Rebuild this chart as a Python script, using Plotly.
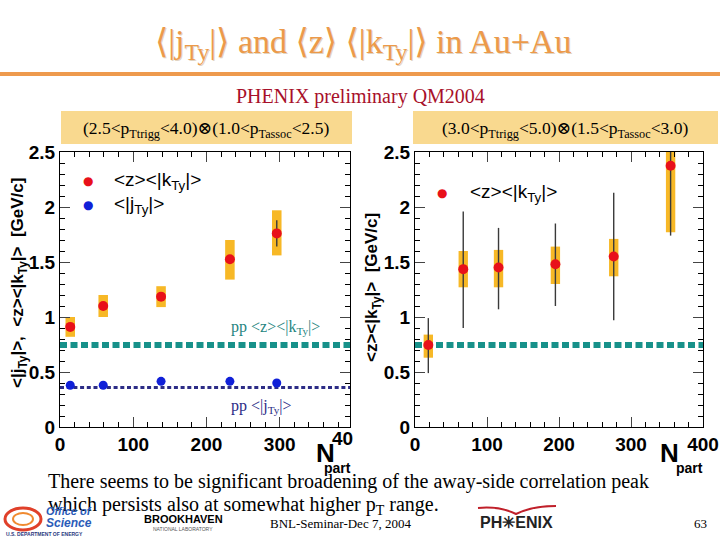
import plotly.graph_objects as go

# ---------------- data ----------------
# left panel: (2.5<pTtrigg<4.0)x(1.0<pTassoc<2.5)
L_npart = [14, 59, 138, 232, 296]
L_zk = [0.91, 1.10, 1.185, 1.525, 1.76]
L_zk_sys_lo = [0.82, 1.00, 1.09, 1.34, 1.56]
L_zk_sys_hi = [1.00, 1.20, 1.28, 1.70, 1.97]
L_zk_stat_lo = [0.88, 1.07, 1.155, 1.49, 1.64]
L_zk_stat_hi = [0.94, 1.13, 1.215, 1.56, 1.88]
L_jt = [0.38, 0.38, 0.415, 0.415, 0.40]
pp_zk = 0.745
pp_jt = 0.36

# right panel: (3.0<pTtrigg<5.0)x(1.5<pTassoc<3.0)
R_npart = [18.5, 67, 116, 195, 276, 355]
R_zk = [0.745, 1.435, 1.45, 1.48, 1.55, 2.375]
R_zk_sys_lo = [0.63, 1.27, 1.27, 1.30, 1.37, 1.77]
R_zk_sys_hi = [0.84, 1.60, 1.61, 1.64, 1.71, 2.75]
R_zk_stat_lo = [0.49, 0.90, 1.07, 1.10, 0.97, 1.74]
R_zk_stat_hi = [0.99, 1.96, 1.81, 1.85, 2.13, 2.90]

x_ticks = [0, 100, 200, 300, 400]
y_ticks = [0, 0.5, 1, 1.5, 2, 2.5]

# ---------------- helpers ----------------
W, H = 720, 540
def px(x): return x / W
def py(y): return 1 - y / H

RED = "#E8101A"
BLUE = "#1020D8"
SYS = "#F7B826"
TEAL = "#17918A"
NAVY = "#2C2C86"
SERIF = "Liberation Serif, DejaVu Serif, serif"

fig = go.Figure()

def add_panel(xa, ya, npart, val, slo, shi, stlo, sthi):
    fig.add_trace(go.Bar(x=npart, y=[h - l for h, l in zip(shi, slo)], base=slo,
                         width=13, marker=dict(color=SYS, line=dict(width=0)),
                         xaxis=xa, yaxis=ya, showlegend=False))
    fig.add_trace(go.Scatter(x=npart, y=val, mode="markers",
                             marker=dict(size=1, color="rgba(0,0,0,0)"),
                             error_y=dict(type="data", symmetric=False,
                                          array=[h - v for h, v in zip(sthi, val)],
                                          arrayminus=[v - l for v, l in zip(val, stlo)],
                                          color="#3a3a3a", thickness=1.4, width=0),
                             xaxis=xa, yaxis=ya, showlegend=False))

add_panel("x", "y", L_npart, L_zk, L_zk_sys_lo, L_zk_sys_hi, L_zk_stat_lo, L_zk_stat_hi)
add_panel("x2", "y2", R_npart, R_zk, R_zk_sys_lo, R_zk_sys_hi, R_zk_stat_lo, R_zk_stat_hi)

# pp reference lines
for xa, ya in (("x", "y"), ("x2", "y2")):
    fig.add_trace(go.Scatter(x=[0, 400], y=[pp_zk, pp_zk], mode="lines",
                             line=dict(color=TEAL, width=6, dash="7px,3.5px"),
                             xaxis=xa, yaxis=ya, showlegend=False))
fig.add_trace(go.Scatter(x=[0, 400], y=[pp_jt, pp_jt], mode="lines",
                         line=dict(color=NAVY, width=3, dash="4px,2.7px"),
                         xaxis="x", yaxis="y", showlegend=False))

# markers
fig.add_trace(go.Scatter(x=L_npart, y=L_jt, mode="markers",
                         marker=dict(size=9, color=BLUE), xaxis="x", yaxis="y", showlegend=False))
fig.add_trace(go.Scatter(x=L_npart, y=L_zk, mode="markers",
                         marker=dict(size=10, color=RED), xaxis="x", yaxis="y", showlegend=False))
fig.add_trace(go.Scatter(x=R_npart, y=R_zk, mode="markers",
                         marker=dict(size=10, color=RED), xaxis="x2", yaxis="y2", showlegend=False))

tickfont = dict(family="Liberation Sans", size=19, color="black", weight="bold")
def xaxis(dom, rng):
    return dict(domain=dom, range=rng, tickvals=x_ticks, ticks="inside", ticklen=10,
                tickwidth=1, mirror="allticks", showline=True, linecolor="black",
                linewidth=1.3, showgrid=False, zeroline=False, tickfont=tickfont,
                minor=dict(dtick=20, ticks="inside", ticklen=5, tickcolor="black", showgrid=False))
def yaxis(dom, anchor):
    return dict(domain=dom, range=[0, 2.5], tickvals=y_ticks, ticks="inside", ticklen=10,
                tickwidth=1, mirror="allticks", showline=True, linecolor="black",
                linewidth=1.3, showgrid=False, zeroline=False, tickfont=tickfont, anchor=anchor,
                minor=dict(dtick=0.1, ticks="inside", ticklen=5, tickcolor="black", showgrid=False))

ydom = [py(427), py(152)]
fig.update_layout(
    width=W, height=H, margin=dict(l=0, r=0, t=0, b=0, autoexpand=False),
    paper_bgcolor="white", plot_bgcolor="white", barmode="overlay", showlegend=False,
    xaxis=dict(xaxis([px(60), px(350)], [0, 396]), anchor="y"),
    yaxis=yaxis(ydom, "x"),
    xaxis2=dict(xaxis([px(415), px(703)], [0, 400]), anchor="y2"),
    yaxis2=yaxis(ydom, "x2"),
)

shapes = [
    dict(type="line", xref="paper", yref="paper", x0=0, x1=1, y0=py(74), y1=py(74),
         line=dict(color="#EE9A4D", width=4)),
    dict(type="rect", xref="paper", yref="paper", x0=px(61), x1=px(352), y0=py(144), y1=py(111),
         fillcolor="#F9D98F", line=dict(width=0), layer="below"),
    dict(type="rect", xref="paper", yref="paper", x0=px(413), x1=px(718), y0=py(144), y1=py(111),
         fillcolor="#F9D98F", line=dict(width=0), layer="below"),
    # DOE logo swirl (approximation)
    dict(type="circle", xref="paper", yref="paper", x0=px(5), x1=px(41), y0=py(530), y1=py(508),
         line=dict(color="#E0402A", width=3), fillcolor="rgba(0,0,0,0)"),
    dict(type="circle", xref="paper", yref="paper", x0=px(13), x1=px(33), y0=py(525), y1=py(513),
         line=dict(color="#F08A30", width=2), fillcolor="rgba(0,0,0,0)"),
    # PHENIX wing
    dict(type="path", xref="paper", yref="paper",
         path=f"M {px(478)} {py(508)} Q {px(500)} {py(506)} {px(516)} {py(514)} Q {px(532)} {py(506)} {px(556)} {py(506)}",
         line=dict(color="#C0202A", width=2)),
]
fig.update_layout(shapes=shapes)

ann = []
def A(x, y, text, size, color="black", family=SERIF, weight="normal",
      xanchor="center", angle=0, **kw):
    ann.append(dict(x=px(x), y=py(y), xref="paper", yref="paper", text=text, showarrow=False,
                    xanchor=xanchor, yanchor="middle", textangle=angle,
                    font=dict(size=size, color=color, family=family, weight=weight, **kw)))

# title (shadow + main)
TITLE = "⟨|j<sub>Ty</sub>|⟩ and ⟨z⟩ ⟨|k<sub>Ty</sub>|⟩ in Au+Au"
A(364, 45, TITLE, 34, color="#E2D4C2")
A(363, 44, TITLE, 34, color="#EC9A4A")
A(360, 97, "PHENIX preliminary QM2004", 20, color="#A8102A")
A(206, 129, "(2.5&lt;p<sub>Ttrigg</sub>&lt;4.0)⊗(1.0&lt;p<sub>Tassoc</sub>&lt;2.5)", 17.5)
A(565, 129, "(3.0&lt;p<sub>Ttrigg</sub>&lt;5.0)⊗(1.5&lt;p<sub>Tassoc</sub>&lt;3.0)", 17.5)

# legends
A(88, 181, "●", 12, color=RED, family="DejaVu Sans")
A(88, 205, "●", 12, color=BLUE, family="DejaVu Sans")
A(112, 181, "&lt;z&gt;&lt;|k<sub>Ty</sub>|&gt;", 19, family="Liberation Sans", xanchor="left")
A(112, 205, "&lt;|j<sub>Ty</sub>|&gt;", 19, family="Liberation Sans", xanchor="left")
A(442, 193, "●", 12, color=RED, family="DejaVu Sans")
A(468, 193, "&lt;z&gt;&lt;|k<sub>Ty</sub>|&gt;", 19, family="Liberation Sans", xanchor="left")

# pp labels
A(229, 327, "pp &lt;z&gt;&lt;|k<sub>Ty</sub>|&gt;", 16, color="#1F8580", xanchor="left")
A(229, 406, "pp &lt;|j<sub>Ty</sub>|&gt;", 16, color=NAVY, xanchor="left")

# axis titles
A(19, 283, "&lt;|j<sub>Ty</sub>|&gt;,  &lt;z&gt;&lt;|k<sub>Ty</sub>|&gt;  [GeV/c]", 17,
  family="Liberation Sans", weight="bold", angle=-90)
A(373, 288, "&lt;z&gt;&lt;|k<sub>Ty</sub>|&gt;  [GeV/c]", 17,
  family="Liberation Sans", weight="bold", angle=-90)
A(342, 438, "40", 19, family="Liberation Sans", weight="bold")
A(325, 453, "N", 26, family="Liberation Sans", weight="bold")
A(337, 468, "part", 14, family="Liberation Sans", weight="bold")
A(669, 453, "N", 26, family="Liberation Sans", weight="bold")
A(689, 468, "part", 14, family="Liberation Sans", weight="bold")

# bottom text
A(46, 481, "There seems to be significant broadening of the away-side correlation peak", 20,
  xanchor="left")
A(46, 505, "which persists also at somewhat higher p<sub>T</sub> range.", 20, xanchor="left")

# footer
A(340, 523, "BNL-Seminar-Dec 7, 2004", 13)
A(700, 523, "63", 13)
A(44, 511, "Office of", 11, color="#2A5BB8", family="Liberation Sans", weight="bold",
  xanchor="left", style="italic")
A(44, 523, "Science", 12, color="#2A5BB8", family="Liberation Sans", weight="bold",
  xanchor="left", style="italic")
A(4, 534, "U.S. DEPARTMENT OF ENERGY", 5, color="#2A3A80", family="Liberation Sans",
  weight="bold", xanchor="left")
A(183, 519, "BROOKHAVEN", 11, family="Liberation Sans", weight="bold")
A(183, 529, "NATIONAL LABORATORY", 5, color="#555", family="Liberation Sans")
A(516, 522, "PH✳ENIX", 16, color="#222", family="Liberation Sans", weight="bold")

fig.update_layout(annotations=ann)
fig.write_html("out.html", config={"displayModeBar": False},
               post_script="document.body.style.margin='0';")
